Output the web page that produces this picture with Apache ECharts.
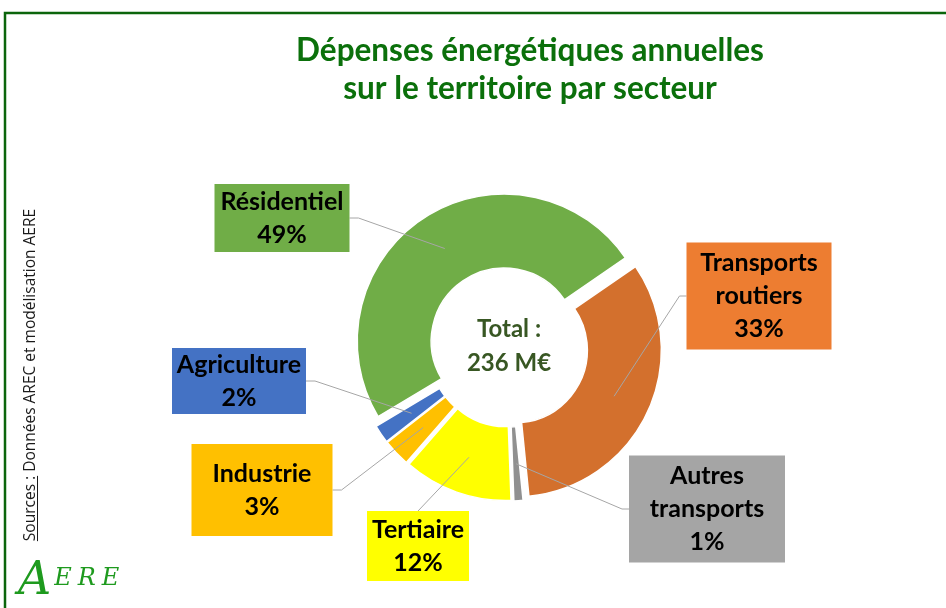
<!DOCTYPE html>
<html>
<head>
<meta charset="utf-8">
<script src="https://cdn.jsdelivr.net/npm/echarts@6/dist/echarts.min.js"></script>
<style>
  html, body { margin: 0; padding: 0; background: #fff; }
  #main { width: 946px; height: 608px; }
</style>
</head>
<body>
<div id="main"></div>
<script>
// données (part en %, sens horaire depuis les transports routiers)
var sectors = ['Transports routiers', 'Autres transports', 'Tertiaire', 'Industrie', 'Agriculture', 'Résidentiel'];
var shares = [33, 1, 12, 3, 2, 49];
var titleLines = ['Dépenses énergétiques annuelles', 'sur le territoire par secteur'];
var totalLines = ['Total :', '236 M€'];
var sourcePrefix = 'Sources :';
var sourceRest = ' Données AREC et modélisation AERE';

// styles
var sliceColors = ['#D3702D', '#909090', '#FFFF00', '#FFC000', '#4472C4', '#70AD47'];
var boxColors = ['#ED7D31', '#A5A5A5', '#FFFF00', '#FFC000', '#4472C4', '#70AD47'];
// étiquettes : centre x, centre y, largeur, hauteur, côté du trait de rappel
var boxes = [
  [759, 296, 145, 107, 'left'],
  [707, 509, 156, 107, 'left'],
  [418, 546, 102, 70, 'top'],
  [262, 490, 141, 92, 'right'],
  [239, 381, 134, 66, 'right'],
  [282, 218, 135, 68, 'right']
];
var CX = 508, CY = 347, R_OUT = 147, R_IN = 73, EXPLODE = 7, R_ANCHOR = 117;
var START = 34.5;
var LINE_H = 33;
var FONT = 'Lato, "Noto Sans", sans-serif';
var SRC_FONT = '15.5px "Open Sans", sans-serif';
var GREEN_LOGO = '#1E9A1E';

function labelText(i) {
  return sectors[i].replace(' ', '\n') + '\n' + shares[i] + '%';
}

// anneau visible, secteurs décalés (éclatés)
var ringData = sectors.map(function (name, i) {
  return { name: name, value: shares[i], selected: true, itemStyle: { color: sliceColors[i] } };
});

// même découpage, transparent, au-dessus : porte les étiquettes et les traits
var labelData = sectors.map(function (name, i) {
  var lines = labelText(i).split('\n').length;
  var pv = Math.max(0, (boxes[i][3] - lines * LINE_H) / 2);
  return {
    name: name,
    value: shares[i],
    label: {
      backgroundColor: boxColors[i],
      width: boxes[i][2],
      padding: [pv + 2, 0, pv - 2, 0]
    }
  };
});

// longueur du texte des sources, pour le soulignement
var ctx = document.createElement('canvas').getContext('2d');
ctx.font = SRC_FONT;
var srcFull = ctx.measureText(sourcePrefix + sourceRest).width;
var srcPrefixW = ctx.measureText(sourcePrefix).width;
var SRC_CY = 375;
var srcStart = SRC_CY + srcFull / 2;

var chart = echarts.init(document.getElementById('main'));

var option = {
  animation: false,
  title: {
    text: titleLines.join('\n'),
    left: 525,
    top: 27,
    textAlign: 'center',
    textStyle: {
      fontFamily: FONT,
      fontSize: 31.5,
      fontWeight: 'bold',
      lineHeight: 38,
      color: '#0B700B'
    }
  },
  graphic: [
    {
      type: 'polyline',
      shape: { points: [[5, 608], [5, 13], [946, 13]] },
      style: { stroke: '#0B650B', lineWidth: 2.5, fill: null }
    },
    {
      type: 'text',
      x: 509, y: 329,
      style: {
        text: totalLines[0], align: 'center', verticalAlign: 'middle',
        font: 'bold 24px ' + FONT, fill: '#385723'
      }
    },
    {
      type: 'text',
      x: 509, y: 363,
      style: {
        text: totalLines[1], align: 'center', verticalAlign: 'middle',
        font: 'bold 24px ' + FONT, fill: '#385723'
      }
    },
    {
      type: 'text',
      x: 31, y: SRC_CY,
      rotation: Math.PI / 2,
      style: {
        text: sourcePrefix + sourceRest, align: 'center', verticalAlign: 'middle',
        font: SRC_FONT, fill: '#1a1a1a'
      }
    },
    {
      type: 'line',
      shape: { x1: 37.5, y1: srcStart, x2: 37.5, y2: srcStart - srcPrefixW },
      style: { stroke: '#1a1a1a', lineWidth: 1 }
    },
    {
      type: 'text',
      x: 18, y: 605,
      style: {
        text: '{a|A}{b|E}{b|R}{b|E}',
        verticalAlign: 'bottom',
        rich: {
          a: { font: 'italic 46px "DejaVu Serif", serif', fill: GREEN_LOGO },
          b: { font: 'italic 24px "DejaVu Serif", serif', fill: GREEN_LOGO, padding: [0, 3, 6, 3] }
        }
      }
    }
  ],
  series: [
    {
      type: 'pie',
      z: 2,
      center: [CX, CY],
      radius: [R_IN, R_OUT],
      startAngle: START,
      clockwise: true,
      selectedMode: 'multiple',
      selectedOffset: EXPLODE,
      itemStyle: { borderColor: '#fff', borderWidth: 1.5 },
      select: { itemStyle: { borderColor: '#fff', borderWidth: 1.5 } },
      emphasis: { disabled: true },
      label: { show: false },
      labelLine: { show: false },
      data: ringData
    },
    {
      type: 'pie',
      z: 3,
      silent: true,
      center: [CX, CY],
      radius: [R_IN, R_OUT],
      startAngle: START,
      clockwise: true,
      avoidLabelOverlap: false,
      itemStyle: { color: 'rgba(0,0,0,0)', borderWidth: 0 },
      label: {
        show: true,
        position: 'outside',
        formatter: function (p) { return labelText(p.dataIndex); },
        fontFamily: FONT,
        fontSize: 25,
        fontWeight: 'bold',
        lineHeight: LINE_H,
        color: '#000',
        align: 'center'
      },
      labelLine: {
        show: true,
        smooth: false,
        length: 10,
        length2: 10,
        lineStyle: { color: '#A6A6A6', width: 1 }
      },
      labelLayout: function (params) {
        var b = boxes[params.dataIndex];
        var pts = params.labelLinePoints;
        var p0 = pts ? pts[0] : [CX + 1, CY];
        var vx = p0[0] - CX, vy = p0[1] - CY;
        var len = Math.sqrt(vx * vx + vy * vy) || 1;
        var a = [CX + vx / len * R_ANCHOR, CY + vy / len * R_ANCHOR];
        var edge, elbow;
        if (b[4] === 'left') {
          edge = [b[0] - b[2] / 2, b[1]];
          elbow = [edge[0] - 7, b[1]];
        } else if (b[4] === 'right') {
          edge = [b[0] + b[2] / 2, b[1]];
          elbow = [edge[0] + 9, b[1]];
        } else {
          edge = [b[0], b[1] - b[3] / 2];
          elbow = edge.slice();
        }
        return {
          x: b[0], y: b[1],
          align: 'center', verticalAlign: 'middle',
          labelLinePoints: [a, elbow, edge]
        };
      },
      data: labelData
    }
  ]
};

chart.setOption(option);
</script>
</body>
</html>
